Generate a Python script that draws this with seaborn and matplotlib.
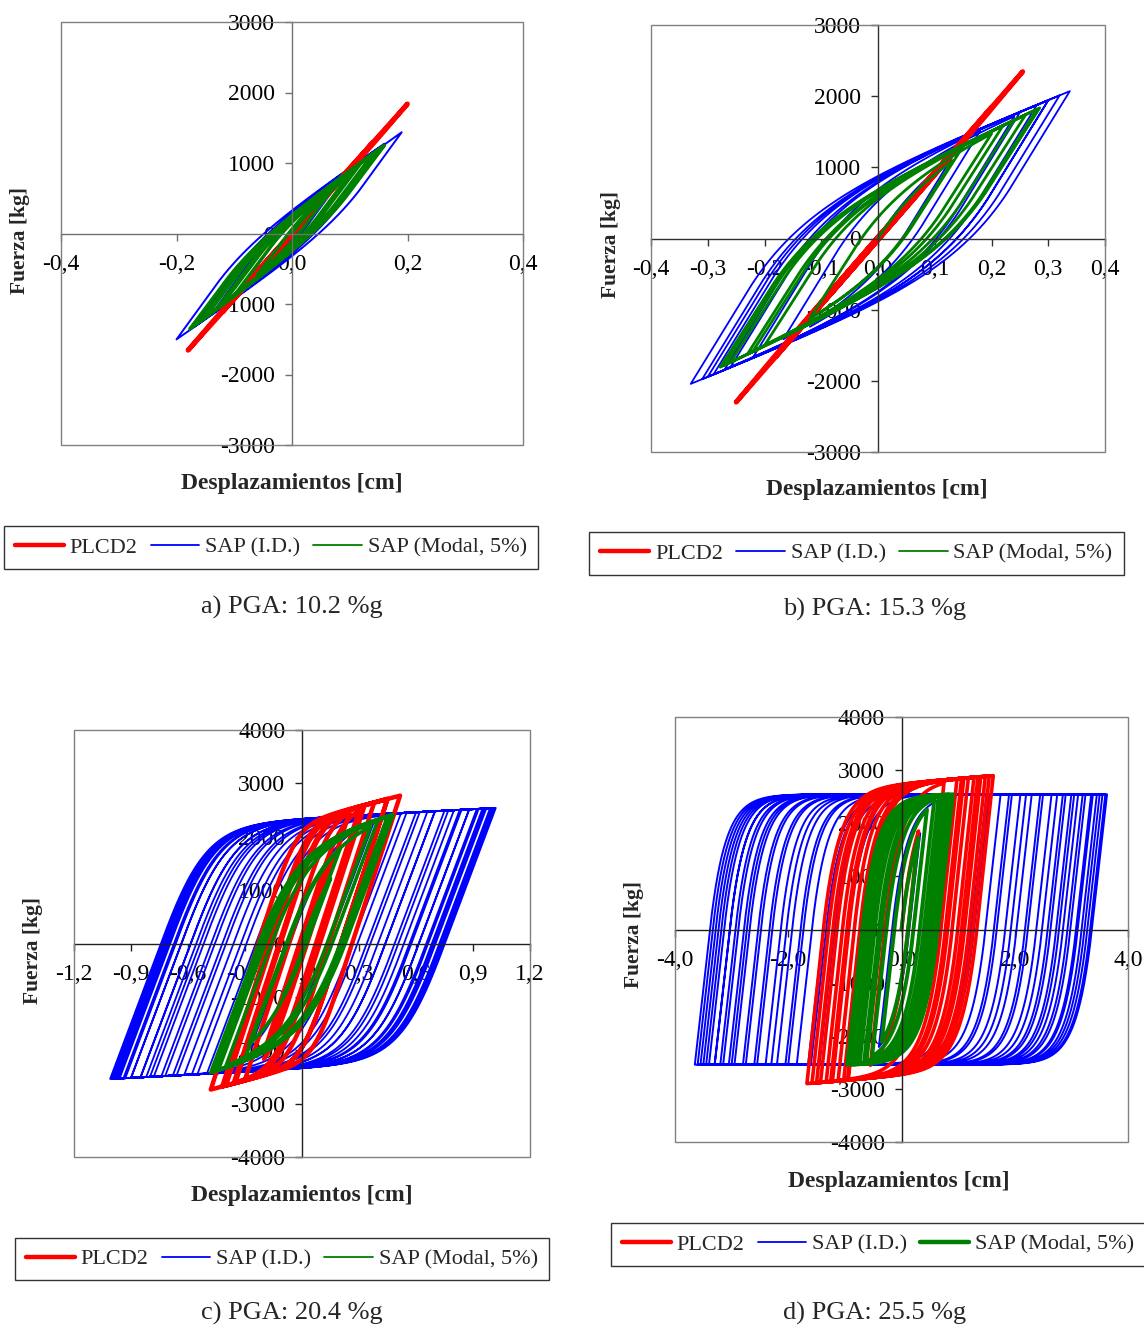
import numpy as np
import matplotlib
matplotlib.use("Agg")
import matplotlib.pyplot as plt
import seaborn as sns
from matplotlib.lines import Line2D
from matplotlib.patches import Rectangle

# displacement reversal points [cm]
a_plcd2 = [0.0, 0.20, -0.18, 0.14, -0.12, 0.08, -0.05]
a_sap_id = [0.0, 0.08, -0.10, 0.19, -0.20, 0.16, -0.17, 0.15, -0.14, 0.12, -0.10, 0.07, -0.05]
a_sap_modal = [0.0, 0.10, -0.12, 0.16, -0.177, 0.15, -0.16, 0.155, -0.15, 0.14, -0.13,
               0.12, -0.10, 0.08, -0.06, 0.04]

b_plcd2 = [0.0, 0.12, -0.15, 0.255, -0.25, 0.20, -0.18, 0.10, -0.08]
b_sap_id = [0.0, 0.13, -0.167, 0.24, -0.27, 0.30, -0.33, 0.338, -0.31, 0.32, -0.29, 0.30,
            -0.30, 0.28, -0.26, 0.25, -0.22, 0.18, -0.12]
b_sap_modal = [0.0, 0.132, -0.12, 0.20, -0.22, 0.26, -0.278, 0.285, -0.27, 0.28, -0.26,
               0.24, -0.23, 0.22, -0.20, 0.15, -0.10]

c_plcd2 = [0.0, 0.15, -0.20, 0.30, -0.35, 0.45, -0.48, 0.516, -0.42, 0.45, -0.40, 0.38,
           -0.36, 0.33, -0.30, 0.25, -0.20]
c_sap_id = [0.0, 0.14, -0.27, 0.38, -0.45, 0.52, -0.55, 0.60, -0.62, 0.66, -0.68, 0.70,
            -0.72, 0.75, -0.78, 0.80, -0.82, 0.84, -0.85, 0.88, -0.90, 0.92, -0.93, 0.95,
            -0.96, 0.97, -0.98, 1.00, -1.00, 1.02, -1.01, 1.01, -0.99, 0.99, -0.97, 0.96,
            -0.94, 0.93, -0.90, 0.88, -0.85, 0.83, -0.80, 0.77, -0.74, 0.70, -0.66, 0.62,
            -0.58, 0.55, -0.50, 0.46, -0.42]
c_sap_modal = [0.0, 0.15, -0.28, 0.36, -0.40, 0.46, -0.48, 0.48, -0.47, 0.47, -0.46, 0.45,
               -0.44, 0.40, -0.30, 0.20, -0.10]

d_plcd2 = [0.0, 0.30, -0.55, 0.75, -0.95, 1.10, -1.25, 1.35, -1.50, 1.62, -1.67, 1.55,
           -1.58, 1.48, -1.43, 1.40, -1.33, 1.28, -1.22, 1.18, -1.12, 1.06, -1.02, 0.98,
           -0.94, 0.90]
d_sap_id = [0.0, 0.33, -0.40, 0.80, -1.20, 1.50, -1.60, 1.90, -2.00, 2.20, -2.30, 2.50,
            -2.60, 2.75, -2.80, 2.90, -3.00, 3.05, -3.15, 3.20, -3.30, 3.35, -3.45, 3.50,
            -3.55, 3.60, -3.65, 3.63, -3.60, 3.55, -3.50, 3.45, -3.40, 3.38, -3.30, 3.25,
            -3.20, 3.12, -3.05, 3.00, -2.95, 2.85, -2.75, 2.65, -2.55, 2.45, -2.40, 2.30,
            -2.20, 2.10, -2.05, 1.95, -1.85, 1.75, -1.65, 1.55, -1.45, 1.35, -1.30]
d_sap_modal = [0.0, 0.30, -0.35, 0.45, -0.52, 0.58, -0.66, 0.72, -0.80, 0.86, -0.96, 0.91,
               -0.90, 0.82, -0.84, 0.76, -0.74, 0.66, -0.62, 0.55]

# loop shape: stiffness [kg/cm], yield [kg], hardening ratio, sharpness
shape = {
    "a": [(9600, 300, 0.95, 1), (11270, 755, 0.50, 1), (10975, 658, 0.544, 1)],
    "b": [(9600, 400, 0.95, 1), (13000, 1300, 0.25, 1), (12500, 1100, 0.30, 1)],
    "c": [(11000, 2500, 0.085, 4), (9500, 2394, 0.02, 2), (9600, 2200, 0.10, 1.5)],
    "d": [(10000, 2775, 0.009, 1), (9500, 2545, 0.0, 1), (9500, 2550, 0.0, 1)],
}

x_ticks_ab = [-0.4, -0.2, 0.0, 0.2, 0.4]
x_labels_a = ["-0,4", "-0,2", "0,0", "0,2", "0,4"]
x_ticks_b = [-0.4, -0.3, -0.2, -0.1, 0.0, 0.1, 0.2, 0.3, 0.4]
x_labels_b = ["-0,4", "-0,3", "-0,2", "-0,1", "0,0", "0,1", "0,2", "0,3", "0,4"]
x_ticks_c = [-1.2, -0.9, -0.6, -0.3, 0.0, 0.3, 0.6, 0.9, 1.2]
x_labels_c = ["-1,2", "-0,9", "-0,6", "-0,3", "0,0", "0,3", "0,6", "0,9", "1,2"]
x_ticks_d = [-4.0, -2.0, 0.0, 2.0, 4.0]
x_labels_d = ["-4,0", "-2,0", "0,0", "2,0", "4,0"]
y_ticks_3 = [-3000, -2000, -1000, 0, 1000, 2000, 3000]
y_ticks_4 = [-4000, -3000, -2000, -1000, 0, 1000, 2000, 3000, 4000]

captions = ["a) PGA: 10.2 %g", "b) PGA: 15.3 %g", "c) PGA: 20.4 %g", "d) PGA: 25.5 %g"]
names = ["PLCD2", "SAP (I.D.)", "SAP (Modal, 5%)"]
colors = ["#ff0000", "#0000ff", "#008000"]


def hysteresis(turns, k, fy, alpha, n, step):
    x, z = turns[0], 0.0
    xs, zs = [x], [z]
    for target in turns[1:]:
        m = max(1, int(abs(target - x) / step))
        dx = (target - x) / m
        for _ in range(m):
            if dx * z > 0:
                z += k / fy * dx * (1 - abs(z) ** n)
            else:
                z += k / fy * dx
            x += dx
            xs.append(x)
            zs.append(z)
    xs = np.array(xs)
    zs = np.array(zs)
    return xs, alpha * k * xs + (1 - alpha) * fy * zs


sns.set_theme(style="white")
plt.rcParams["font.family"] = ["Liberation Serif", "DejaVu Serif"]

W, H = 1144, 1332
fig = plt.figure(figsize=(W / 100, H / 100), dpi=100)


def px(x, y):
    return x / W, 1 - y / H


def panel(key, box, turns, widths, xlim, ylim, xt, xl, yt, axis_color):
    x0, y0, x1, y1 = box
    ax = fig.add_axes([x0 / W, 1 - y1 / H, (x1 - x0) / W, (y1 - y0) / H])
    for i in [1, 0, 2]:
        k, fy, alpha, n = shape[key][i]
        step = 0.0008 if key in "ab" else (0.002 if key == "c" else 0.005)
        xs, fs = hysteresis(turns[i], k, fy, alpha, n, step)
        sns.lineplot(x=xs, y=fs, sort=False, estimator=None, color=colors[i],
                     linewidth=widths[i], ax=ax, legend=False)
    ax.set_xlim(xlim)
    ax.set_ylim(ylim)
    ax.set_xticks(xt)
    ax.set_xticklabels(xl)
    ax.set_yticks(yt)
    ax.set_yticklabels([str(v) for v in yt])
    ax.set_xlabel("")
    ax.set_ylabel("")
    for s in ["top", "right"]:
        ax.spines[s].set_visible(False)
    for s in ["left", "bottom"]:
        ax.spines[s].set_position(("data", 0))
        ax.spines[s].set_color(axis_color)
        ax.spines[s].set_linewidth(1.0)
    ax.tick_params(bottom=True, left=True, direction="out", length=5, width=1,
                   color=axis_color, labelsize=17, labelcolor="black")
    ax.tick_params(axis="x", pad=10)
    ax.tick_params(axis="y", pad=7)
    ax.add_patch(Rectangle((0, 0), 1, 1, transform=ax.transAxes, fill=False,
                           edgecolor="#808080", linewidth=1.0, clip_on=False, zorder=3))
    ax.set_facecolor("white")
    return ax


panel("a", (61, 22, 523, 445), [a_plcd2, a_sap_id, a_sap_modal], [3.5, 1.4, 2.4],
      (-0.4, 0.4), (-3000, 3000), x_ticks_ab, x_labels_a, y_ticks_3, "#707070")
panel("b", (651, 25, 1105, 452), [b_plcd2, b_sap_id, b_sap_modal], [3.5, 1.3, 2.0],
      (-0.4, 0.4), (-3000, 3000), x_ticks_b, x_labels_b, y_ticks_3, "#303030")
panel("c", (74, 730, 530, 1157), [c_plcd2, c_sap_id, c_sap_modal], [3.2, 1.3, 2.6],
      (-1.2, 1.2), (-4000, 4000), x_ticks_c, x_labels_c, y_ticks_4, "#202020")
panel("d", (675, 717, 1128, 1142), [d_plcd2, d_sap_id, d_sap_modal], [2.6, 1.4, 2.8],
      (-4.0, 4.0), (-4000, 4000), x_ticks_d, x_labels_d, y_ticks_4, "#202020")

# axis titles, legends, captions
xlab_pos = [(292, 483), (877, 490), (302, 1195), (899, 1181)]
ylab_pos = [(20, 240), (611, 245), (33, 950), (634, 935)]
leg_pos = [(271, 547.5), (856.5, 553.5), (282, 1259), (878, 1244.5)]
cap_pos = [(292, 607), (875, 609), (292, 1313), (875, 1313)]
green_leg_w = [1.3, 1.3, 1.3, 3.2]

for i in range(4):
    fig.text(*px(*xlab_pos[i]), "Desplazamientos [cm]", ha="center", va="center",
             fontsize=17, fontweight="bold")
    fig.text(*px(*ylab_pos[i]), "Fuerza [kg]", ha="center", va="center", rotation=90,
             fontsize=15.5, fontweight="bold")
    fig.text(*px(*cap_pos[i]), captions[i], ha="center", va="center", fontsize=19)
    handles = [Line2D([], [], color=colors[0], lw=3.2),
               Line2D([], [], color=colors[1], lw=1.3),
               Line2D([], [], color=colors[2], lw=green_leg_w[i])]
    leg = fig.legend(handles, names, loc="center", bbox_to_anchor=px(*leg_pos[i]),
                     ncol=3, fontsize=16, frameon=True, fancybox=False,
                     handlelength=2.2, handletextpad=0.25, columnspacing=0.6,
                     borderpad=0.5)
    leg.get_frame().set_edgecolor("black")
    leg.get_frame().set_linewidth(1.0)

fig.savefig("out.png", dpi=100, facecolor="white")
